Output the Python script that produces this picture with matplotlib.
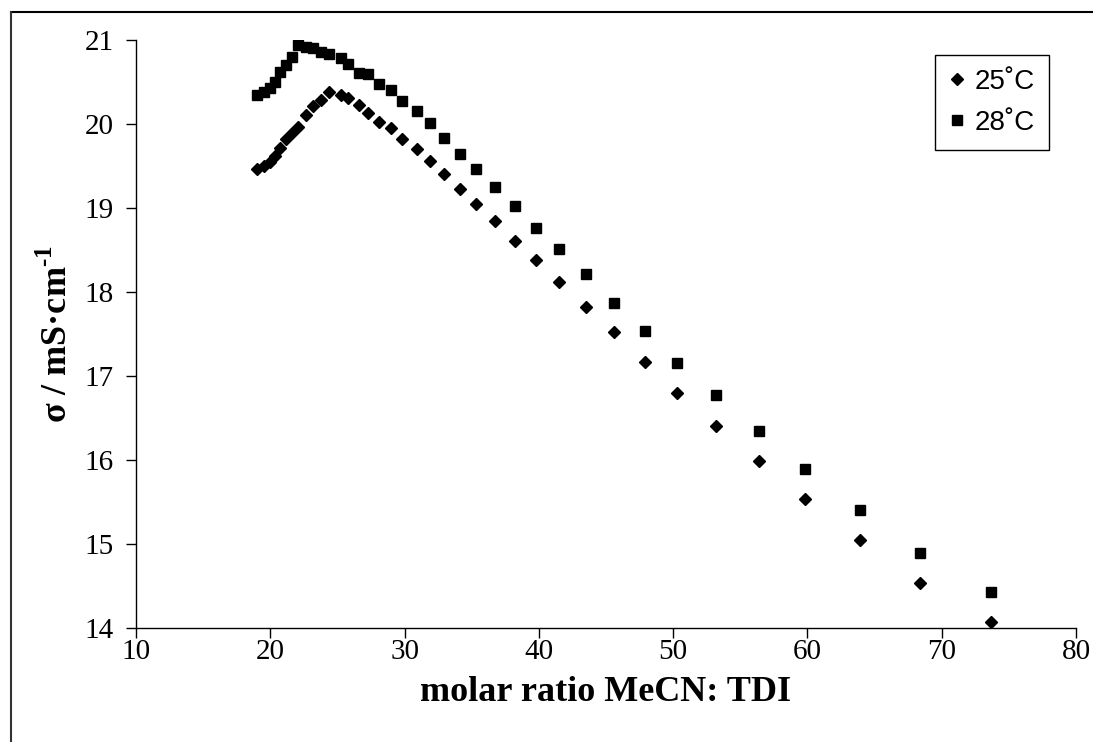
import matplotlib.pyplot as plt
from matplotlib.lines import Line2D

# molar ratio MeCN : TDI (same compositions for both temperatures)
molar_ratio = [19.0, 19.5, 20.0, 20.35, 20.7, 21.2, 21.6, 22.1, 22.65, 23.2,
               23.8, 24.35, 25.3, 25.8, 26.6, 27.3, 28.1, 29.0, 29.8, 30.9,
               31.9, 32.9, 34.1, 35.3, 36.7, 38.2, 39.8, 41.5, 43.5, 45.6,
               47.9, 50.3, 53.2, 56.4, 59.8, 63.9, 68.4, 73.7]

# conductivity, mS/cm
sigma_25 = [19.46, 19.50, 19.55, 19.62, 19.71, 19.82, 19.89, 19.97, 20.11, 20.21,
            20.28, 20.38, 20.35, 20.31, 20.23, 20.13, 20.02, 19.95, 19.82, 19.70,
            19.56, 19.40, 19.23, 19.05, 18.85, 18.61, 18.38, 18.12, 17.82, 17.52,
            17.17, 16.80, 16.41, 15.99, 15.53, 15.05, 14.54, 14.07]
sigma_28 = [20.34, 20.38, 20.43, 20.50, 20.62, 20.70, 20.80, 20.94, 20.92, 20.90,
            20.86, 20.83, 20.78, 20.71, 20.61, 20.59, 20.48, 20.40, 20.27, 20.15,
            20.01, 19.83, 19.64, 19.46, 19.25, 19.02, 18.76, 18.51, 18.21, 17.87,
            17.53, 17.16, 16.77, 16.35, 15.89, 15.40, 14.89, 14.43]

x_ticks = [10, 20, 30, 40, 50, 60, 70, 80]
y_ticks = [14, 15, 16, 17, 18, 19, 20, 21]
series_labels = ["25\u02daC", "28\u02daC"]

plt.rcParams["mathtext.fontset"] = "custom"
plt.rcParams["mathtext.rm"] = "Liberation Serif"
plt.rcParams["mathtext.bf"] = "Liberation Serif:bold"

W, H = 1093, 742
fig = plt.figure(figsize=(W / 100, H / 100), dpi=100)
ax = fig.add_axes([136 / W, 1 - 628 / H, (1076 - 136) / W, (628 - 40) / H])

ax.plot(molar_ratio, sigma_25, linestyle="none", marker="D", ms=6.6,
        color="black", label=series_labels[0])
ax.plot(molar_ratio, sigma_28, linestyle="none", marker="s", ms=7.8,
        color="black", label=series_labels[1])

ax.set_xlim(10, 80)
ax.set_ylim(14, 21)
ax.set_xticks(x_ticks)
ax.set_yticks(y_ticks)
for side in ["top", "right"]:
    ax.spines[side].set_visible(False)
for side in ["left", "bottom"]:
    ax.spines[side].set_linewidth(1.0)
ax.tick_params(direction="out", length=7, width=1.0, labelsize=21)
ax.tick_params(axis="x", pad=1)
ax.tick_params(axis="y", pad=9)
for lab in ax.get_xticklabels() + ax.get_yticklabels():
    lab.set_fontfamily("Liberation Serif")

ax.set_xlabel("molar ratio MeCN: TDI", family="Liberation Serif",
              fontweight="bold", fontsize=26, labelpad=8)
ax.set_ylabel("σ / mS·cm$^{\\mathbf{\u20101}}$", family="Liberation Serif",
              fontweight="bold", fontsize=26, labelpad=7)

leg = ax.legend(loc="upper right", bbox_to_anchor=(1049 / W, 1 - 55 / H),
                bbox_transform=fig.transFigure, borderaxespad=0,
                prop={"family": "Liberation Sans", "size": 20},
                fancybox=False, edgecolor="black", framealpha=1,
                handlelength=0.6, handletextpad=0.35, borderpad=0.5,
                labelspacing=0.55, markerscale=0.85)
leg.get_frame().set_linewidth(1.0)

# outer frame of the cropped chart area (top and left edges only)
fig.add_artist(Line2D([11 / W, 1], [1 - 12 / H, 1 - 12 / H],
                      transform=fig.transFigure, color="black", lw=1.5))
fig.add_artist(Line2D([11 / W, 11 / W], [0, 1 - 12 / H],
                      transform=fig.transFigure, color="#333333", lw=1.5))

fig.savefig("out.png", dpi=100)
